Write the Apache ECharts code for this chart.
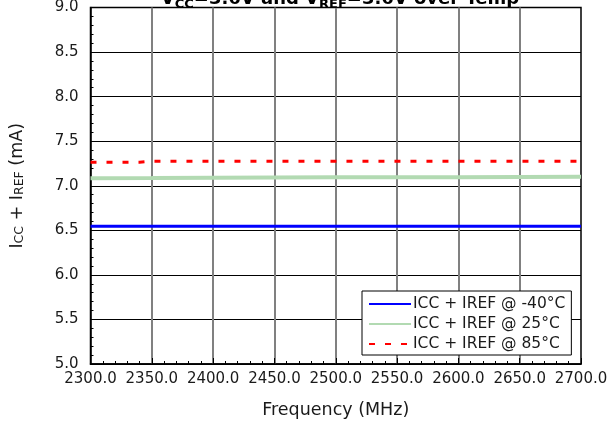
<!DOCTYPE html>
<html><head><meta charset="utf-8">
<script src="https://cdn.jsdelivr.net/npm/echarts@6/dist/echarts.min.js"></script>
<style>html,body{margin:0;padding:0;background:#fff}#c{width:616px;height:435px}</style>
</head><body><div id="c"></div>
<script>
var xTicks = [2300, 2350, 2400, 2450, 2500, 2550, 2600, 2650, 2700];
var yTicks = [5.0, 5.5, 6.0, 6.5, 7.0, 7.5, 8.0, 8.5, 9.0];
var freqBlue = [2300, 2350, 2400, 2450, 2500, 2550, 2600, 2650, 2700];
var iccM40 = [6.545, 6.545, 6.545, 6.545, 6.545, 6.545, 6.545, 6.545, 6.545];
var freqGreen = [2300, 2350, 2400, 2450, 2500, 2550, 2600, 2650, 2700];
var icc25 = [7.085, 7.087, 7.090, 7.093, 7.094, 7.095, 7.096, 7.098, 7.100];
var freqRed = [2300, 2340, 2350, 2400, 2450, 2500, 2550, 2600, 2650, 2700];
var icc85 = [7.265, 7.265, 7.276, 7.276, 7.276, 7.276, 7.276, 7.276, 7.276, 7.276];
var seriesNames = ['ICC + IREF @ -40\u00b0C', 'ICC + IREF @ 25\u00b0C', 'ICC + IREF @ 85\u00b0C'];

function pairs(xs, ys) { return xs.map(function (x, i) { return [x, ys[i]]; }); }
var FONT = 'DejaVu Sans';
var TXT = '#1a1a1a';
var chart = echarts.init(document.getElementById('c'));
chart.setOption({
  animation: false,
  textStyle: { fontFamily: FONT, color: TXT },
  title: {
    text: '{m|V}{s|CC}{m|=3.6V and V}{s|REF}{m|=3.6V over Temp}',
    left: 335, textAlign: 'center', top: -18,
    textStyle: {
      rich: {
        m: { fontFamily: FONT, fontWeight: 'bold', fontSize: 18, color: '#000' },
        s: { fontFamily: FONT, fontWeight: 'bold', fontSize: 13, color: '#000', padding: [11, 0, 0, 0] }
      }
    }
  },
  grid: { left: 90, right: 35, top: 6, bottom: 71, show: true, borderColor: '#000', borderWidth: 1.5, backgroundColor: '#fff' },
  legend: {
    orient: 'vertical', left: 362, top: 291, backgroundColor: '#fff',
    borderColor: '#000', borderWidth: 1, borderRadius: 0, padding: [5, 6, 3, 6],
    itemWidth: 42, itemHeight: 14, itemGap: 4,
    itemStyle: { opacity: 0 },
    textStyle: { fontFamily: FONT, fontSize: 15.5, color: TXT, padding: [0, 0, 0, -3] },
    data: seriesNames
  },
  xAxis: {
    type: 'value', min: 2300, max: 2700, interval: 50,
    name: 'Frequency (MHz)', nameLocation: 'middle', nameGap: 37,
    nameTextStyle: { fontFamily: FONT, fontSize: 17.5, color: TXT },
    axisLine: { show: true, lineStyle: { color: '#000', width: 1.5 } },
    axisTick: { show: true, inside: true, length: 6, lineStyle: { color: '#000' } },
    minorTick: { show: true, splitNumber: 5, length: 3, lineStyle: { color: '#000' } },
    axisLabel: { fontFamily: FONT, fontSize: 15, color: TXT, margin: 8, formatter: function (v) { return v.toFixed(1); } },
    splitLine: { show: true, showMinLine: false, showMaxLine: false, lineStyle: { color: '#808080', width: 2 } }
  },
  yAxis: {
    type: 'value', min: 5, max: 9, interval: 0.5,
    name: '{m|I}{s|CC}{m| + I}{s|REF}{m| (mA)}', nameLocation: 'middle', nameGap: 64, nameRotate: 90,
    nameTextStyle: { rich: {
      m: { fontFamily: FONT, fontSize: 17.5, color: TXT },
      s: { fontFamily: FONT, fontSize: 12.5, color: TXT, padding: [6, 0, 0, 0] }
    } },
    axisLine: { show: true, lineStyle: { color: '#000', width: 1.5 } },
    axisTick: { show: true, inside: true, length: 6, lineStyle: { color: '#000' } },
    minorTick: { show: true, splitNumber: 5, length: 3, lineStyle: { color: '#000' } },
    axisLabel: { fontFamily: FONT, fontSize: 15, color: TXT, margin: 12, formatter: function (v) { return v.toFixed(1); } },
    splitLine: { show: true, lineStyle: { color: '#000', width: 1 } }
  },
  series: [
    { name: seriesNames[0], type: 'line', symbol: 'none', data: pairs(freqBlue, iccM40),
      lineStyle: { color: '#0000ff', width: 3 }, itemStyle: { color: '#0000ff' } },
    { name: seriesNames[1], type: 'line', symbol: 'none', data: pairs(freqGreen, icc25),
      lineStyle: { color: '#b2dab2', width: 4 }, itemStyle: { color: '#b2dab2' } },
    { name: seriesNames[2], type: 'line', symbol: 'none', data: pairs(freqRed, icc85),
      lineStyle: { color: '#ff0000', width: 3, type: [6, 10] }, itemStyle: { color: '#ff0000' } }
  ]
});
</script></body></html>
